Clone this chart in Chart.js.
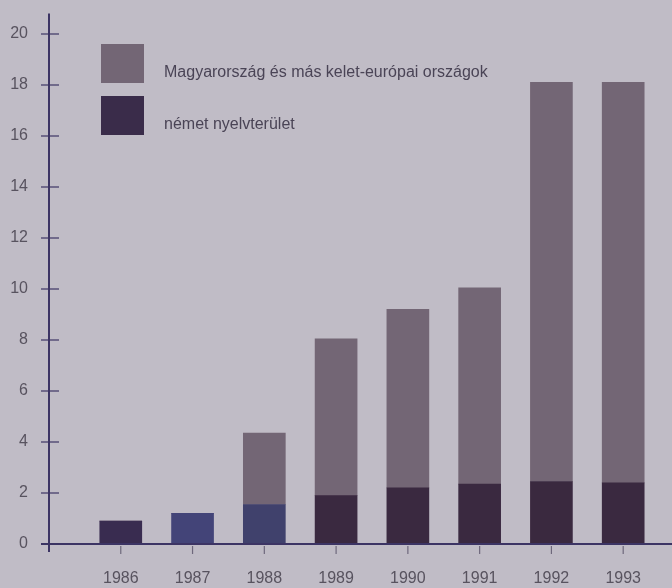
<!DOCTYPE html>
<html>
<head>
<meta charset="utf-8">
<script src="https://cdn.jsdelivr.net/npm/chart.js@4.4.0/dist/chart.umd.min.js"></script>
<style>
  html, body { margin: 0; padding: 0; background: #c0bcc6; }
  #wrap { width: 672px; height: 588px; }
</style>
</head>
<body>
<div id="wrap"><canvas id="c" width="672" height="588"></canvas></div>
<script>
const years = [1986, 1987, 1988, 1989, 1990, 1991, 1992, 1993];
const nemetNyelvterulet = [0.9, 1.2, 1.55, 1.9, 2.2, 2.35, 2.45, 2.4];
const keletEuropa = [0, 0, 2.8, 6.15, 7.0, 7.7, 15.65, 15.7];
const seriesLabels = ['német nyelvterület', 'Magyarország és más kelet-európai országok'];
const yTicks = [0, 2, 4, 6, 8, 10, 12, 14, 16, 18, 20];

const darkColors = ['#392c50', '#434478', '#40416c', '#3a2940', '#3a2940', '#3a2940', '#3a293f', '#3a2940'];
const greyColor = '#736675';
const axisColor = '#3c3464';
const textColor = '#58535f';
const fontFamily = '"Liberation Sans", Arial, sans-serif';

const decor = {
  id: 'decor',
  afterDraw(chart) {
    const ctx = chart.ctx;
    const xs = chart.scales.x, ys = chart.scales.y;
    const y0 = ys.getPixelForValue(0);
    const left = xs.left, top = chart.chartArea.top;
    ctx.save();
    ctx.strokeStyle = axisColor;
    ctx.lineWidth = 2;
    ctx.beginPath();
    ctx.moveTo(left, top);
    ctx.lineTo(left, y0 + 8);
    ctx.stroke();
    ctx.beginPath();
    ctx.moveTo(left - 8, y0);
    ctx.lineTo(chart.width, y0);
    ctx.stroke();
    ctx.lineWidth = 1.2;
    yTicks.forEach(v => {
      const p = ys.getPixelForValue(v);
      ctx.beginPath();
      ctx.moveTo(left - 8, p);
      ctx.lineTo(left + 10, p);
      ctx.stroke();
    });
    ctx.strokeStyle = '#6e687c';
    years.forEach(v => {
      const p = xs.getPixelForValue(v);
      ctx.beginPath();
      ctx.moveTo(p, y0 + 2);
      ctx.lineTo(p, y0 + 10);
      ctx.stroke();
    });
    const items = [
      { label: seriesLabels[1], color: greyColor, y: 44 },
      { label: seriesLabels[0], color: '#3a2c4a', y: 96 }
    ];
    ctx.font = '16px ' + fontFamily;
    ctx.textBaseline = 'middle';
    ctx.textAlign = 'left';
    items.forEach(it => {
      ctx.fillStyle = it.color;
      ctx.fillRect(101, it.y, 43, 39);
      ctx.fillStyle = '#4a4456';
      ctx.fillText(it.label, 164, it.y + 29);
    });
    ctx.restore();
  }
};

new Chart(document.getElementById('c'), {
  type: 'bar',
  data: {
    datasets: [
      {
        label: seriesLabels[0],
        data: years.map((y, i) => ({ x: y, y: nemetNyelvterulet[i] })),
        backgroundColor: darkColors,
        barThickness: 42,
        borderWidth: 0
      },
      {
        label: seriesLabels[1],
        data: years.map((y, i) => ({ x: y, y: keletEuropa[i] })),
        backgroundColor: greyColor,
        barThickness: 42,
        borderWidth: 0
      }
    ]
  },
  options: {
    responsive: false,
    animation: false,
    devicePixelRatio: 1,
    layout: { padding: { top: 13.6, left: 0, right: 0, bottom: 0 } },
    plugins: { legend: { display: false }, tooltip: { enabled: false } },
    scales: {
      x: {
        type: 'linear',
        stacked: true,
        offset: false,
        min: 1985,
        max: 1993.68,
        grid: { display: false, drawTicks: false, offset: false },
        border: { display: false },
        ticks: {
          stepSize: 1,
          includeBounds: false,
          autoSkip: false,
          maxRotation: 0,
          padding: 25,
          color: textColor,
          font: { family: fontFamily, size: 16 },
          callback: v => (years.includes(v) ? String(v) : '')
        },
        afterFit: s => { s.height = 44; s.paddingLeft = 0; s.paddingRight = 0; }
      },
      y: {
        stacked: true,
        min: 0,
        max: 20.8,
        grid: { display: false, drawTicks: false },
        border: { display: false },
        ticks: {
          stepSize: 2,
          includeBounds: false,
          padding: 21,
          color: textColor,
          font: { family: fontFamily, size: 16 },
          callback: v => (yTicks.includes(v) ? String(v) : '')
        },
        afterFit: s => { s.width = 49; s.paddingTop = 0; s.paddingBottom = 0; }
      }
    }
  },
  plugins: [decor]
});
</script>
</body>
</html>
